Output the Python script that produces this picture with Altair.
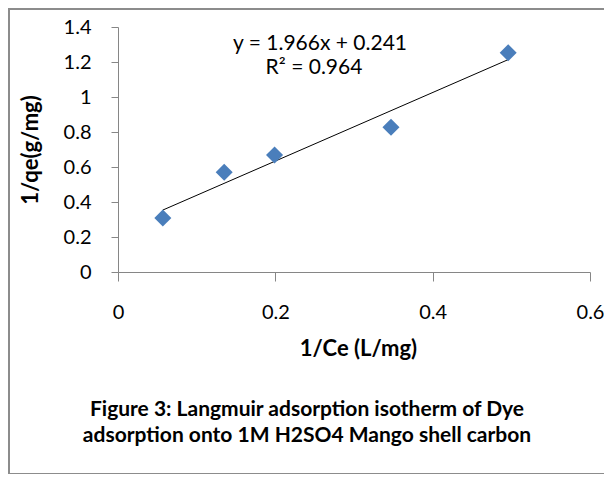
import altair as alt
import pandas as pd

# Data
inv_ce = [0.057, 0.135, 0.199, 0.347, 0.496]   # 1/Ce (L/mg)
inv_qe = [0.309, 0.570, 0.669, 0.827, 1.253]   # 1/qe (g/mg)
x_ticks = [0, 0.2, 0.4, 0.6]
y_ticks = [0, 0.2, 0.4, 0.6, 0.8, 1.0, 1.2, 1.4]
equation_text = "y = 1.966x + 0.241"
r2_text = "R² = 0.964"
caption_lines = ["Figure 3: Langmuir adsorption isotherm of Dye",
                 "adsorption onto 1M H2SO4 Mango shell carbon"]

df = pd.DataFrame({"x": inv_ce, "y": inv_qe})

FONT = "Lato"
AXIS_GRAY = "#868686"
W, H = 472, 245

x_axis = alt.Axis(values=x_ticks, format="~g", title="1/Ce (L/mg)",
                  grid=False, domainColor=AXIS_GRAY, tickColor=AXIS_GRAY,
                  tickSize=9, labelPadding=21, labelFontSize=20,
                  labelFont=FONT, labelColor="#000", labelFlush=False,
                  labelOverlap=False,
                  titleFont=FONT, titleFontSize=22, titleFontWeight="bold",
                  titleColor="#000", titleX=240, titleY=76,
                  titleBaseline="middle", titleAlign="center")
y_axis = alt.Axis(values=y_ticks, format="~g", title="1/qe(g/mg)",
                  grid=False, domainColor=AXIS_GRAY, tickColor=AXIS_GRAY,
                  tickSize=7, labelPadding=20, labelFontSize=20,
                  labelFont=FONT, labelColor="#000", labelFlush=False,
                  labelOverlap=False,
                  titleFont=FONT, titleFontSize=22, titleFontWeight="bold",
                  titleColor="#000", titleX=-88, titleY=H / 2,
                  titleAngle=-90, titleBaseline="middle",
                  titleAlign="center")

x_enc = alt.X("x:Q", scale=alt.Scale(domain=[0, 0.6], nice=False), axis=x_axis)
y_enc = alt.Y("y:Q", scale=alt.Scale(domain=[0, 1.4], nice=False), axis=y_axis)

points = alt.Chart(df).mark_point(shape="diamond", filled=True, size=290,
                                  color="#4a7ebb", opacity=1).encode(x=x_enc, y=y_enc)

trend = alt.Chart(df).transform_regression("x", "y").mark_line(
    color="#000", strokeWidth=1).encode(x=x_enc, y=y_enc)

one = alt.Data(values=[{}])

eq = alt.Chart(one).mark_text(font=FONT, fontSize=21, color="#000",
                              align="center", baseline="middle").encode(
    x=alt.value(202), y=alt.value(17), text=alt.value(equation_text))
r2 = alt.Chart(one).mark_text(font=FONT, fontSize=21, color="#000",
                              align="center", baseline="middle").encode(
    x=alt.value(196), y=alt.value(41), text=alt.value(r2_text))

cap1 = alt.Chart(one).mark_text(font=FONT, fontSize=21, fontWeight="bold",
                                color="#000", align="center", baseline="middle").encode(
    x=alt.value(189), y=alt.value(383), text=alt.value(caption_lines[0]))
cap2 = alt.Chart(one).mark_text(font=FONT, fontSize=21, fontWeight="bold",
                                color="#000", align="center", baseline="middle").encode(
    x=alt.value(189), y=alt.value(409), text=alt.value(caption_lines[1]))

BORDER = "#8c8c8c"
top_border = alt.Chart(one).mark_rule(color=BORDER, strokeWidth=2).encode(
    x=alt.value(-109), x2=alt.value(500), y=alt.value(-18))
left_border = alt.Chart(one).mark_rule(color=BORDER, strokeWidth=2).encode(
    x=alt.value(-109), y=alt.value(-19), y2=alt.value(447))
bottom_border = alt.Chart(one).mark_rule(color=BORDER, strokeWidth=2).encode(
    x=alt.value(-109), x2=alt.value(500), y=alt.value(447))

chart = alt.layer(top_border, left_border, bottom_border, trend, points,
                  eq, r2, cap1, cap2).properties(
    width=W, height=H,
    autosize=alt.AutoSizeParams(type="none"),
    padding={"left": 110, "top": 19, "right": 14, "bottom": 202},
    background="white",
).configure_view(stroke=None)

chart.save("out.html", embed_options={"renderer": "svg", "actions": False})
